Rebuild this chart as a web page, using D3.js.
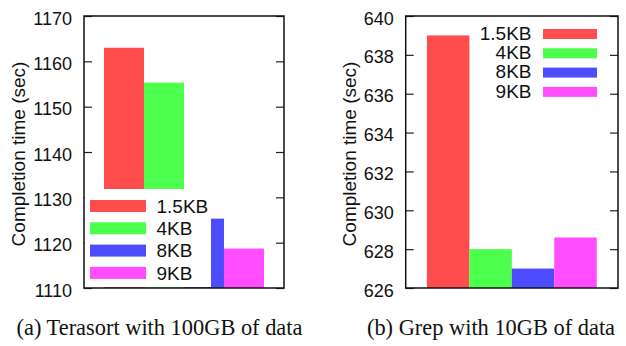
<!DOCTYPE html>
<html><head><meta charset="utf-8">
<script src="https://cdn.jsdelivr.net/npm/d3@7"></script>
<style>body{margin:0;background:#fff}svg{display:block}</style>
</head><body>
<svg id="c" width="626" height="346"></svg>
<script>
const seriesNames = ["1.5KB", "4KB", "8KB", "9KB"];
const seriesColors = ["#ff4d4d", "#4dff4d", "#4d4dff", "#ff4dff"];
const terasortValues = [1163, 1155.3, 1125.3, 1118.7];
const grepValues = [639, 628, 627, 628.6];
const terasortTicks = [1110, 1120, 1130, 1140, 1150, 1160, 1170];
const grepTicks = [626, 628, 630, 632, 634, 636, 638, 640];
const yLabel = "Completion time (sec)";
const captions = ["(a) Terasort with 100GB of data", "(b) Grep with 10GB of data"];

const svg = d3.select("#c");
const SANS = "'Liberation Sans', Arial, Helvetica, sans-serif";

function panel(opts) {
  const {x0, x1, y0, y1, values, ticks, legend, labelX, capX, caption, id} = opts;
  const g = svg.append("g");
  const y = d3.scaleLinear().domain([ticks[0], ticks[ticks.length - 1]]).range([y1, y0]);
  const x = d3.scaleBand().domain(seriesNames).range([x0, x1]).paddingInner(0).paddingOuter(0.5);

  svg.append("clipPath").attr("id", id).append("rect")
    .attr("x", x0).attr("y", y0).attr("width", x1 - x0).attr("height", y1 - y0);

  g.append("g").attr("clip-path", `url(#${id})`)
    .selectAll("rect").data(values).join("rect")
    .attr("x", (d, i) => x(seriesNames[i]))
    .attr("width", x.bandwidth())
    .attr("y", d => y(d))
    .attr("height", d => y(ticks[0]) - y(d))
    .attr("fill", (d, i) => seriesColors[i]);

  // left axis (inward ticks)
  const ax = g.append("g").attr("transform", `translate(${x0},0)`)
    .call(d3.axisLeft(y).tickValues(ticks).tickSize(-8).tickPadding(12).tickFormat(d3.format("d")));
  ax.select(".domain").remove();
  ax.selectAll("line").attr("stroke", "#222").attr("stroke-width", 1.2);
  ax.selectAll("text").attr("font-family", SANS).attr("font-size", 18).attr("fill", "#111").attr("dy", "0.45em");

  const axr = g.append("g").attr("transform", `translate(${x1},0)`)
    .call(d3.axisRight(y).tickValues(ticks).tickSize(-8).tickFormat(""));
  axr.select(".domain").remove();
  axr.selectAll("line").attr("stroke", "#222").attr("stroke-width", 1.2);

  legend(g, x, y);

  g.append("rect").attr("x", x0).attr("y", y0).attr("width", x1 - x0).attr("height", y1 - y0)
    .attr("fill", "none").attr("stroke", "#111").attr("stroke-width", 1.5);

  g.append("text").attr("transform", `translate(${labelX},${(y0 + y1) / 2 + 2}) rotate(-90)`)
    .attr("text-anchor", "middle").attr("dy", "0.35em")
    .attr("font-family", SANS).attr("font-size", 19).attr("fill", "#111").text(yLabel);

  svg.append("text").attr("x", capX).attr("y", 334.5).attr("text-anchor", "middle")
    .attr("font-family", "'Liberation Serif', 'Times New Roman', serif").attr("font-size", 22.4)
    .attr("fill", "#111").text(caption);
}

panel({
  id: "clipA", x0: 84, x1: 284, y0: 16, y1: 288,
  values: terasortValues, ticks: terasortTicks, labelX: 18, capX: 159.5, caption: captions[0],
  legend: (g, x, y) => {
    g.append("rect").attr("x", 85).attr("y", 189).attr("width", 126).attr("height", 98).attr("fill", "#fff");
    const lg = g.append("g");
    seriesNames.forEach((s, i) => {
      const cy = 206 + i * 22.3;
      lg.append("rect").attr("x", 90).attr("y", cy - 6).attr("width", 56).attr("height", 12).attr("fill", seriesColors[i]);
      lg.append("text").attr("x", 156.5).attr("y", cy).attr("dy", "0.36em")
        .attr("font-family", SANS).attr("font-size", 19).attr("fill", "#111").text(s);
    });
  }
});

panel({
  id: "clipB", x0: 405.7, x1: 618, y0: 16, y1: 288,
  values: grepValues, ticks: grepTicks, labelX: 349.5, capX: 491, caption: captions[1],
  legend: (g, x, y) => {
    const lg = g.append("g");
    seriesNames.forEach((s, i) => {
      const cy = 34 + i * 19.3;
      lg.append("rect").attr("x", 543).attr("y", cy - 5).attr("width", 54).attr("height", 10).attr("fill", seriesColors[i]);
      lg.append("text").attr("x", 531.5).attr("y", cy - 1).attr("dy", "0.36em").attr("text-anchor", "end")
        .attr("font-family", SANS).attr("font-size", 19).attr("fill", "#111").text(s);
    });
  }
});
</script>
</body></html>
